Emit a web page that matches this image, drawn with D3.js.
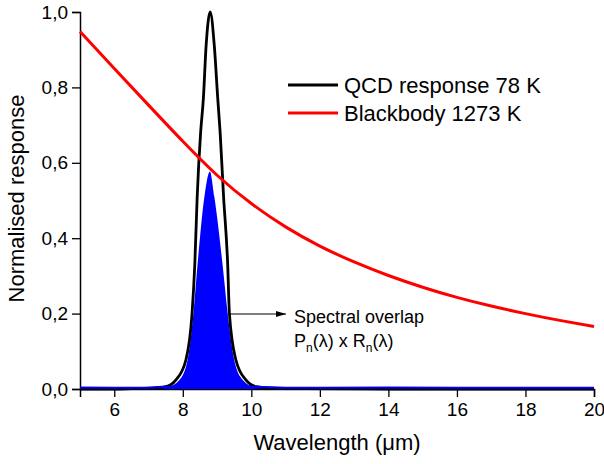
<!DOCTYPE html>
<html>
<head>
<meta charset="utf-8">
<script src="https://cdn.jsdelivr.net/npm/d3@7"></script>
<style>
  body { margin: 0; background: #fff; }
  svg text { font-family: "Liberation Sans", Arial, sans-serif; fill: #000; }
</style>
</head>
<body>
<div id="chart"></div>
<script>
// QCD response at 78 K (wavelength in um, normalised)
const qcdWave = [5, 6, 6.5, 7, 7.5, 7.8, 8.09, 8.27, 8.35, 8.42, 8.52, 8.6, 8.68, 8.8, 8.92, 9.02, 9.09, 9.19, 9.31, 9.36, 9.55, 9.84, 10.14, 10.6, 11.5, 14, 20];
const qcdValue = [0, 0, 0.001, 0.002, 0.006, 0.024, 0.077, 0.2, 0.33, 0.51, 0.68, 0.77, 0.91, 1.0, 0.91, 0.77, 0.68, 0.51, 0.33, 0.2, 0.077, 0.024, 0.006, 0.002, 0.001, 0, 0];

// Blackbody 1273 K
const bbWave = [5, 6, 7, 8, 9, 10, 11, 12, 13, 14, 15, 16, 17, 18, 19, 20];
const bbValue = [0.948, 0.85, 0.753, 0.657, 0.567, 0.492, 0.43, 0.379, 0.337, 0.301, 0.27, 0.243, 0.22, 0.2, 0.182, 0.166];

// Spectral overlap Pn x Rn
const ovWave = [5, 6, 7, 7.56, 7.9, 8.14, 8.31, 8.43, 8.63, 8.79, 8.92, 9.16, 9.31, 9.5, 9.75, 10.09, 11, 12, 14, 16, 20];
const ovValue = [0.004, 0.003, 0.003, 0.006, 0.024, 0.077, 0.2, 0.33, 0.51, 0.577, 0.51, 0.33, 0.2, 0.077, 0.024, 0.006, 0.003, 0.003, 0.004, 0.003, 0.003];

const xMajor = [6, 8, 10, 12, 14, 16, 18, 20];
const xMinor = d3.range(5, 21, 1);
const yMajor = [0, 0.2, 0.4, 0.6, 0.8, 1.0];
const yMinor = d3.range(0, 1.01, 0.1);

const width = 604;
const height = 464;
const margin = { top: 12, right: 10, bottom: 75, left: 80 };

const svg = d3.select('#chart')
  .append('svg')
  .attr('width', width)
  .attr('height', height);

const xScale = d3.scaleLinear().domain([5, 20]).range([margin.left, width - margin.right]);
const yScale = d3.scaleLinear().domain([0, 1]).range([height - margin.bottom, margin.top]);

const comma = (d) => d3.format('.1f')(d).replace('.', ',');

// axes
const xAxisG = svg.append('g')
  .attr('transform', `translate(0, ${yScale(0)})`);
xAxisG.call(d3.axisBottom(xScale).tickValues(xMinor).tickSize(4.5).tickFormat(''));
xAxisG.call(d3.axisBottom(xScale).tickValues(xMajor).tickSize(8).tickPadding(6).tickFormat(d3.format('d')));

const yAxisG = svg.append('g')
  .attr('transform', `translate(${margin.left}, 0)`);
yAxisG.call(d3.axisLeft(yScale).tickValues(yMinor).tickSize(4.5).tickFormat(''));
yAxisG.call(d3.axisLeft(yScale).tickValues(yMajor).tickSize(8).tickPadding(4).tickFormat(comma));

svg.selectAll('.domain').attr('stroke', '#000').attr('stroke-width', 1.5);
svg.selectAll('.tick line').attr('stroke', '#000').attr('stroke-width', 1.3);
svg.selectAll('.tick text').style('font-size', '19px').style('font-family', '"Liberation Sans", Arial, sans-serif');

// overlap fill
const ovData = ovWave.map((w, i) => ({ w, v: ovValue[i] }));
const area = d3.area()
  .x((d) => xScale(d.w))
  .y0(yScale(0))
  .y1((d) => yScale(d.v))
  .curve(d3.curveMonotoneX);
svg.append('path')
  .datum(ovData)
  .attr('d', area)
  .attr('fill', '#0000ff');

const line = d3.line()
  .x((d) => xScale(d.w))
  .y((d) => yScale(d.v))
  .curve(d3.curveMonotoneX);

// QCD response
const qcdData = qcdWave.map((w, i) => ({ w, v: qcdValue[i] }));
svg.append('path')
  .datum(qcdData)
  .attr('d', line)
  .attr('fill', 'none')
  .attr('stroke', '#000')
  .attr('stroke-width', 2.8);

// blue baseline of overlap
svg.append('path')
  .datum(ovData.filter((d) => d.v < 0.01))
  .attr('d', d3.line().x((d) => xScale(d.w)).y((d) => yScale(d.v)).defined((d) => d.w < 7.6 || d.w > 10))
  .attr('fill', 'none')
  .attr('stroke', '#0000ff')
  .attr('stroke-width', 2);

// Blackbody
const bbData = bbWave.map((w, i) => ({ w, v: bbValue[i] }));
svg.append('path')
  .datum(bbData)
  .attr('d', line.curve(d3.curveNatural))
  .attr('fill', 'none')
  .attr('stroke', '#ff0000')
  .attr('stroke-width', 3);

// axis titles
svg.append('text')
  .attr('x', (xScale(5) + xScale(20)) / 2)
  .attr('y', 450)
  .attr('text-anchor', 'middle')
  .style('font-size', '22px')
  .text('Wavelength (μm)');

svg.append('text')
  .attr('transform', `translate(24, ${yScale(0.5) - 2}) rotate(-90)`)
  .attr('text-anchor', 'middle')
  .style('font-size', '22px')
  .text('Normalised response');

// legend
const legendItems = [
  { label: 'QCD response 78 K', color: '#000', y: 85 },
  { label: 'Blackbody 1273 K', color: '#ff0000', y: 113 }
];
const legend = svg.append('g');
legendItems.forEach((d) => {
  legend.append('line')
    .attr('x1', 288).attr('x2', 338)
    .attr('y1', d.y).attr('y2', d.y)
    .attr('stroke', d.color)
    .attr('stroke-width', 3);
  legend.append('text')
    .attr('x', 344)
    .attr('y', d.y + 8)
    .style('font-size', '22px')
    .text(d.label);
});

// annotation arrow
svg.append('defs').append('marker')
  .attr('id', 'arrow')
  .attr('viewBox', '0 0 10 6')
  .attr('refX', 10).attr('refY', 3)
  .attr('markerWidth', 10).attr('markerHeight', 6)
  .attr('markerUnits', 'userSpaceOnUse')
  .attr('orient', 'auto')
  .append('path')
  .attr('d', 'M0,0 L10,3 L0,6 Z')
  .attr('fill', '#000');

svg.append('line')
  .attr('x1', 229).attr('x2', 286)
  .attr('y1', 314).attr('y2', 314)
  .attr('stroke', '#000')
  .attr('stroke-width', 1.2)
  .attr('marker-end', 'url(#arrow)');

svg.append('text')
  .attr('x', 294).attr('y', 323)
  .style('font-size', '18px')
  .text('Spectral overlap');

const t2 = svg.append('text')
  .attr('x', 294).attr('y', 347)
  .style('font-size', '18px');
t2.append('tspan').text('P');
t2.append('tspan').attr('dy', 5).style('font-size', '12px').text('n');
t2.append('tspan').attr('dy', -5).text('(λ) x R');
t2.append('tspan').attr('dy', 5).style('font-size', '12px').text('n');
t2.append('tspan').attr('dy', -5).text('(λ)');
</script>
</body>
</html>
